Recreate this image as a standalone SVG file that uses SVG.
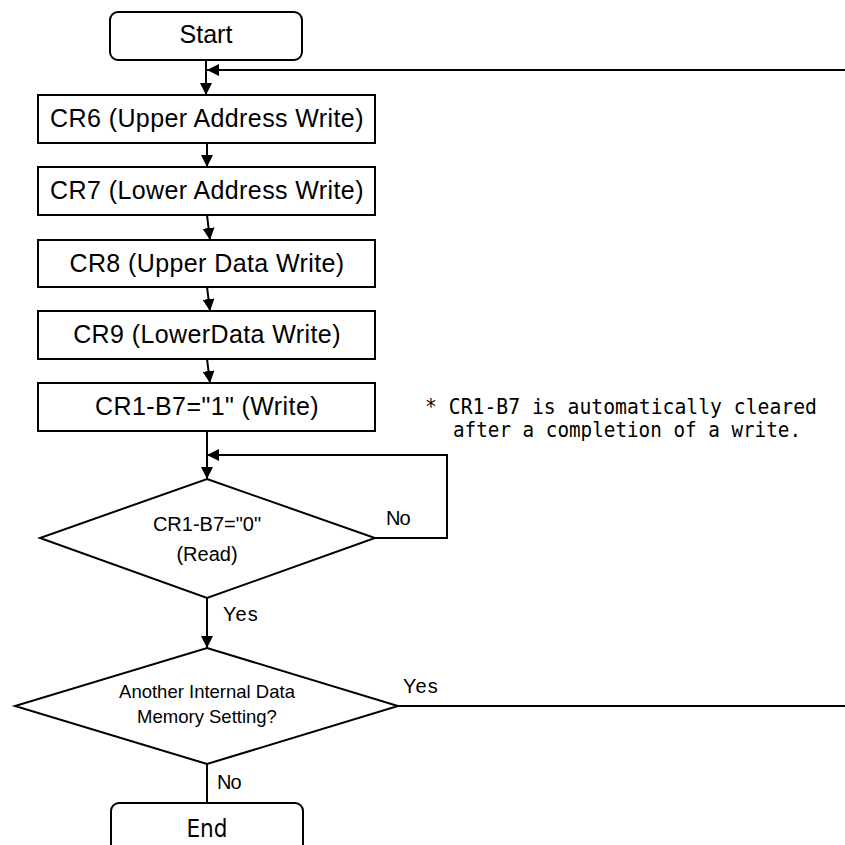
<svg xmlns="http://www.w3.org/2000/svg" width="845" height="845" viewBox="0 0 845 845">
<style>
.box{fill:#fff;stroke:#000;stroke-width:2}
.ln{fill:none;stroke:#000;stroke-width:2}
.t{font-family:"Liberation Sans",Arial,sans-serif;fill:#000;text-anchor:middle}
.bt{font-size:25px;letter-spacing:0.4px}
.lb{font-family:"Liberation Sans",Arial,sans-serif;fill:#000}
.note{font-family:"DejaVu Sans Mono","Liberation Mono",monospace;font-size:21px;fill:#000}
</style>
<defs>
<marker id="ah" markerUnits="userSpaceOnUse" markerWidth="13" markerHeight="13" refX="12" refY="6" orient="auto">
<path d="M0,0 L12,6 L0,12 z" fill="#000"/>
</marker>
</defs>
<rect width="845" height="845" fill="#fff"/>
<g id="connectors">
<line class="ln" x1="206" y1="60" x2="206" y2="95" marker-end="url(#ah)"/>
<line class="ln" x1="845" y1="70" x2="207" y2="70" marker-end="url(#ah)"/>
<line class="ln" x1="207" y1="143" x2="207" y2="167" marker-end="url(#ah)"/>
<line class="ln" x1="207" y1="215" x2="210" y2="240" marker-end="url(#ah)"/>
<line class="ln" x1="207" y1="287" x2="210" y2="311" marker-end="url(#ah)"/>
<line class="ln" x1="207" y1="359" x2="210" y2="383" marker-end="url(#ah)"/>
<line class="ln" x1="207" y1="431" x2="207" y2="479" marker-end="url(#ah)"/>
<polyline class="ln" points="375,538 447,538 447,455 207,455" marker-end="url(#ah)"/>
<line class="ln" x1="207" y1="598" x2="207" y2="648" marker-end="url(#ah)"/>
<line class="ln" x1="398" y1="706" x2="846" y2="706"/>
<line class="ln" x1="207" y1="764" x2="207" y2="803"/>
<text class="lb" x="386" y="525" font-size="20" letter-spacing="-1">No</text>
<text class="lb" x="223" y="621" font-size="20" letter-spacing="1">Yes</text>
<text class="lb" x="403" y="693" font-size="20" letter-spacing="1">Yes</text>
<text class="lb" x="217" y="789" font-size="20" letter-spacing="-1">No</text>
</g>
<g id="start">
<rect class="box" x="110" y="12" width="192" height="48" rx="8"/>
<text class="t" x="206" y="43" font-size="25">Start</text>
</g>
<g id="cr6">
<rect class="box" x="38" y="95" width="337" height="48"/>
<text class="t bt" x="207" y="127">CR6 (Upper Address Write)</text>
</g>
<g id="cr7">
<rect class="box" x="38" y="167" width="337" height="48"/>
<text class="t bt" x="207" y="199">CR7 (Lower Address Write)</text>
</g>
<g id="cr8">
<rect class="box" x="38" y="240" width="337" height="47"/>
<text class="t bt" x="207" y="272">CR8 (Upper Data Write)</text>
</g>
<g id="cr9">
<rect class="box" x="38" y="311" width="337" height="48"/>
<text class="t bt" x="207" y="343">CR9 (LowerData Write)</text>
</g>
<g id="cr1write">
<rect class="box" x="38" y="383" width="337" height="48"/>
<text class="t bt" x="207" y="415">CR1-B7="1" (Write)</text>
</g>
<g id="note">
<text class="note" x="425" y="414" textLength="392" lengthAdjust="spacingAndGlyphs">* CR1-B7 is automatically cleared</text>
<text class="note" x="453" y="437" textLength="348" lengthAdjust="spacingAndGlyphs">after a completion of a write.</text>
</g>
<g id="readcheck">
<polygon class="box" points="207,479 375,538 207,598 40,538"/>
<text class="t" x="207" y="531" font-size="20">CR1-B7="0"</text>
<text class="t" x="207" y="561" font-size="20">(Read)</text>
</g>
<g id="another">
<polygon class="box" points="207,648 398,706 207,764 15,706"/>
<text class="t" x="207" y="698" font-size="18.5">Another Internal Data</text>
<text class="t" x="207" y="723" font-size="18.5">Memory Setting?</text>
</g>
<g id="end">
<rect class="box" x="111" y="803" width="192" height="60" rx="8"/>
<text class="t" x="207" y="837" font-size="24" style="font-family:'DejaVu Sans Condensed','DejaVu Sans',sans-serif">End</text>
</g>
</svg>
